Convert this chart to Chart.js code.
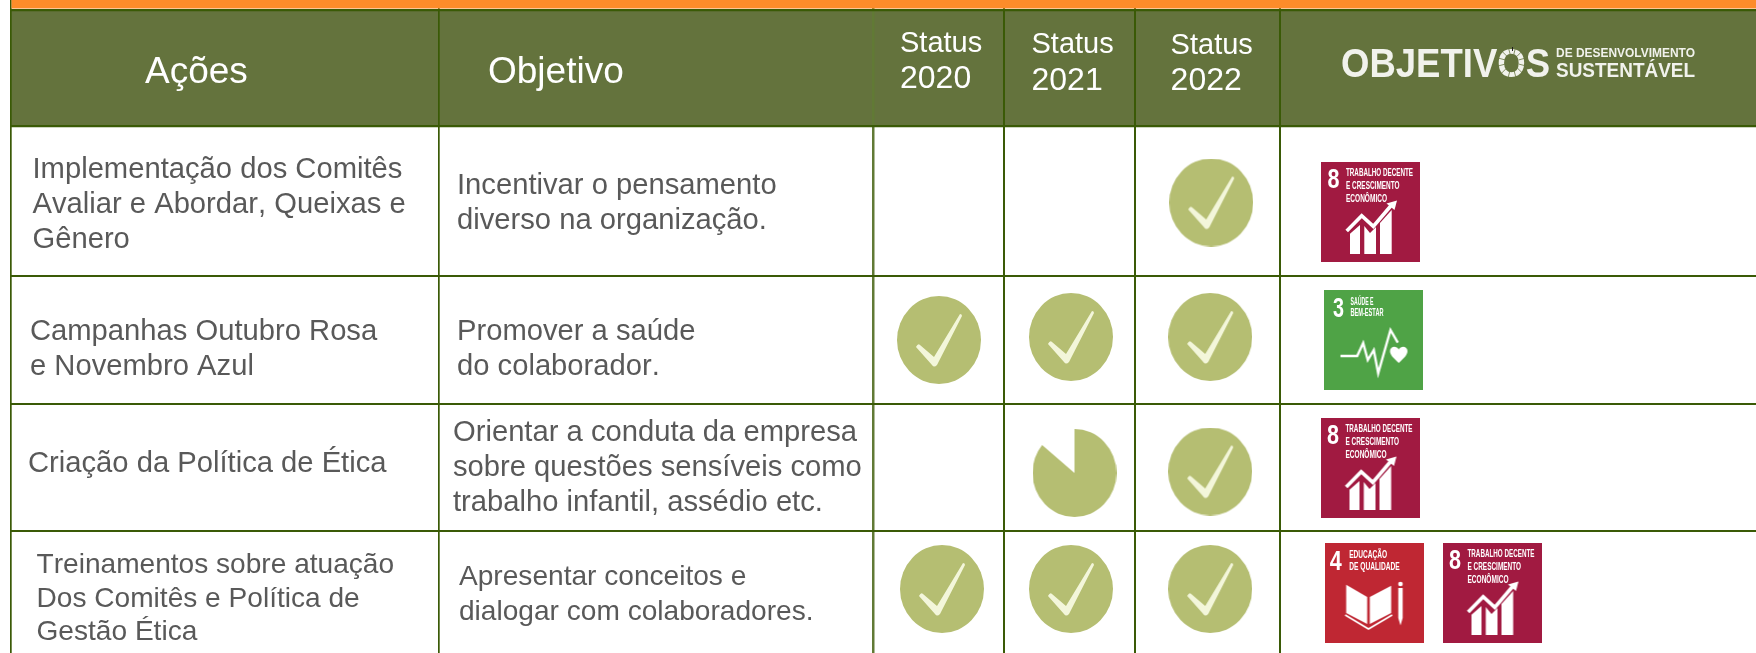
<!DOCTYPE html>
<html lang="pt">
<head>
<meta charset="utf-8">
<title>Ações e status</title>
<script src="https://cdn.jsdelivr.net/npm/chart.js@4"></script>
<style>html,body{margin:0;padding:0;background:#fff;overflow:hidden}canvas{display:block}</style>
</head>
<body>
<canvas id="c" width="1756" height="653"></canvas>
<script>
// ---------- data ----------
const headerAcoes = 'Ações';
const headerObjetivo = 'Objetivo';
const statusYears = ['2020', '2021', '2022'];
const actions = [
  ['Implementação dos Comitês', 'Avaliar e Abordar, Queixas e', 'Gênero'],
  ['Campanhas Outubro Rosa', 'e Novembro Azul'],
  ['Criação da Política de Ética'],
  ['Treinamentos sobre atuação', 'Dos Comitês e Política de', 'Gestão Ética']
];
const objectives = [
  ['Incentivar o pensamento', 'diverso na organização.'],
  ['Promover a saúde', 'do colaborador.'],
  ['Orientar a conduta da empresa', 'sobre questões sensíveis como', 'trabalho infantil, assédio etc.'],
  ['Apresentar conceitos e', 'dialogar com colaboradores.']
];
const status2020 = [null, 1, null, 1];
const status2021 = [null, 1, 0.86, 1];
const status2022 = [1, 1, 1, 1];
const rowGoals = [[8], [3], [8], [4, 8]];
const goalTitles = {
  3: ['SAÚDE E', 'BEM-ESTAR'],
  4: ['EDUCAÇÃO', 'DE QUALIDADE'],
  8: ['TRABALHO DECENTE', 'E CRESCIMENTO', 'ECONÔMICO']
};
const logoMain = 'OBJETIVOS', logoTop = 'DE DESENVOLVIMENTO', logoBottom = 'SUSTENTÁVEL';

// ---------- layout (table geometry, axis units = page pixels) ----------
const colEdges = [10.5, 438.5, 873, 1004, 1135, 1279.5];
const rowEdges = [10, 126, 276, 404, 531];
const tableBottom = 653;
const statusCols = [2, 3, 4];
const markNudgeX = [[0, 0, 4], [0.5, 1.5, 3], [0, 5, 3], [3.5, 1.5, 3]];
const markNudgeY = [[1.5, 1.5, 1.5], [0, -3, -3], [4, 5.5, 4], [-3, -3, -3]];
const goalTileX = [[1370.5], [1373], [1370], [1374, 1492]];
const goalTileY = [212, 340, 468, 593];
const actionX = [32.5, 30, 28, 36.5];
const actionBase = [[178, 213, 248], [340, 375], [472], [573, 607, 640]];
const actionSize = [29.2, 29.2, 29.2, 28.1];
const objectiveX = [457, 457, 453, 459];
const objectiveBase = [[194, 229], [340, 375], [441, 476, 511], [585, 620]];
const objectiveSize = [29.2, 29.2, 29.2, 28.1];
const statusTextX = [900, 1031.5, 1170.6];
const statusTextBase = [[52, 88], [53, 90], [54, 90]];
const TEXT = '"Liberation Sans", Arial, sans-serif';
const GOLD = '#b5be72', TICK = '#f3f6da', HEAD = '#64733d', RULE = '#3a5a06', ORANGE = '#fd8c2a';
const goalColors = {3: '#4fa346', 4: '#bf2733', 8: '#a11a41'};

// ---------- mark images ----------
function statusImage(v) {
  const w = 84, h = 88, c = document.createElement('canvas');
  c.width = w; c.height = h;
  const g = c.getContext('2d');
  g.save();
  g.translate(w / 2, h / 2); g.scale(w / 2, h / 2);
  g.fillStyle = GOLD;
  g.beginPath();
  if (v >= 1) { g.arc(0, 0, 1, 0, Math.PI * 2); }
  else { g.moveTo(0, 0); g.arc(0, 0, 1, -Math.PI / 2, -Math.PI / 2 + v * Math.PI * 2); g.closePath(); }
  g.fill();
  g.restore();
  if (v >= 1) {
    g.translate(w / 2, h / 2);
    g.fillStyle = TICK;
    g.beginPath();
    g.moveTo(-23, 7); g.quadraticCurveTo(-21, 3, -19, 5);
    g.lineTo(-5, 17); g.lineTo(21, -26);
    g.quadraticCurveTo(23, -26, 23, -24);
    g.lineTo(-2, 25);
    g.quadraticCurveTo(-5, 28, -7, 25);
    g.closePath();
    g.fill();
  }
  return c;
}
function poly(g, pts) {
  g.beginPath();
  pts.forEach((p, i) => i ? g.lineTo(p[0], p[1]) : g.moveTo(p[0], p[1]));
}
function goalImage(n) {
  const c = document.createElement('canvas');
  c.width = 99; c.height = 100;
  const g = c.getContext('2d');
  g.fillStyle = goalColors[n];
  g.fillRect(0, 0, 99, 100);
  g.fillStyle = '#fff'; g.strokeStyle = '#fff'; g.lineJoin = 'miter';
  if (n === 8) {
    poly(g, [[29, 71.7], [39, 63], [39, 92], [29, 92]]); g.fill();
    poly(g, [[43.3, 64], [49, 71], [55, 65], [55, 92], [43.3, 92]]); g.fill();
    poly(g, [[59, 61], [70.7, 48], [70.7, 92], [59, 92]]); g.fill();
    g.lineWidth = 3.6;
    poly(g, [[25.7, 69], [40.7, 53.7], [52.3, 64.3], [71, 42.5]]); g.stroke();
    poly(g, [[76, 38.5], [73.5, 48], [65.5, 41.5]]); g.fill();
  } else if (n === 3) {
    g.lineWidth = 2.4;
    poly(g, [[17, 66], [33.7, 66], [39.7, 53], [44.3, 70], [50.3, 60], [54.7, 83.3], [67, 40], [74.3, 52.7]]); g.stroke();
    g.beginPath();
    g.moveTo(75.3, 73);
    g.bezierCurveTo(70, 68, 66.5, 65, 66.5, 61);
    g.bezierCurveTo(66.5, 56, 73, 55, 75.3, 59.5);
    g.bezierCurveTo(77.5, 55, 84, 56, 84, 61);
    g.bezierCurveTo(84, 65, 80.5, 68, 75.3, 73);
    g.fill();
  } else if (n === 4) {
    poly(g, [[21.7, 41.7], [42.7, 54], [42.7, 81], [21.7, 70]]); g.fill();
    poly(g, [[45.3, 54], [66.7, 42.7], [66.7, 70], [45.3, 81]]); g.fill();
    g.lineWidth = 1.6;
    poly(g, [[20.7, 72], [44, 86], [67.7, 72]]); g.stroke();
    g.beginPath(); g.arc(76, 41, 2.3, 0, Math.PI * 2); g.fill();
    poly(g, [[73.8, 45], [78.2, 45], [78.2, 75], [76, 82.5], [73.8, 75]]); g.fill();
  }
  return c;
}

// ---------- datasets built from the arrays ----------
const allStatus = [status2020, status2021, status2022];
const markPoints = [], markStyles = [];
allStatus.forEach((series, s) => series.forEach((v, r) => {
  if (v === null) return;
  const col = statusCols[s];
  markPoints.push({
    x: (colEdges[col] + colEdges[col + 1]) / 2 + markNudgeX[r][s],
    y: (rowEdges[r + 1] + (rowEdges[r + 2] || tableBottom)) / 2 + markNudgeY[r][s]
  });
  markStyles.push(statusImage(v));
}));
const goalPoints = [], goalStyles = [], goalLabels = [];
rowGoals.forEach((list, r) => list.forEach((n, i) => {
  goalPoints.push({x: goalTileX[r][i], y: goalTileY[r]});
  goalStyles.push(goalImage(n));
  goalLabels.push(n);
}));

// ---------- text offsets inside a goal tile ----------
const goalText = {
  3: {num: [9.5, 27.3, 11], size: 11.5, x: 27, base: [15.3, 26], width: [23, 33]},
  4: {num: [5.3, 26.8, 12], size: 11.5, x: 24.7, base: [15, 26.7], width: [38, 50.6]},
  8: {num: [6.5, 26.4, 12], size: 11.5, x: 25, base: [14.3, 27, 39.5], width: [67, 53.5, 41]}
};

const tablePaint = {
  id: 'tablePaint',
  beforeDraw(chart) {
    const {ctx, scales: {x, y}} = chart;
    ctx.save();
    ctx.fillStyle = HEAD;
    const x0 = x.getPixelForValue(colEdges[0]);
    const y0 = y.getPixelForValue(rowEdges[0]);
    ctx.fillRect(x0, y0, chart.width - x0, y.getPixelForValue(rowEdges[1]) - y0);
    ctx.restore();
  },
  beforeDatasetsDraw(chart) {
    const {ctx, scales: {x, y}} = chart;
    ctx.save();
    ctx.fillStyle = ORANGE;
    const x0 = x.getPixelForValue(colEdges[0]);
    ctx.fillRect(x0 + 1, 0, chart.width - x0, y.getPixelForValue(8.5));
    ctx.restore();
  },
  afterDatasetsDraw(chart) {
    const {ctx, scales: {x, y}} = chart;
    const put = (s, vx, vy, mw) => {
      const px = x.getPixelForValue(vx), py = y.getPixelForValue(vy);
      if (mw) ctx.fillText(s, px, py, mw); else ctx.fillText(s, px, py);
    };
    ctx.save();
    ctx.textAlign = 'left'; ctx.textBaseline = 'alphabetic';
    ctx.fillStyle = '#fff';
    ctx.font = '37px ' + TEXT;
    put(headerAcoes, 145, 83);
    put(headerObjetivo, 488, 83);
    statusYears.forEach((yr, i) => {
      ctx.font = '29px ' + TEXT;
      put('Status', statusTextX[i], statusTextBase[i][0]);
      ctx.font = '32px ' + TEXT;
      put(yr, statusTextX[i], statusTextBase[i][1]);
    });
    ctx.fillStyle = '#f1f2ec';
    ctx.font = 'bold 41px ' + TEXT;
    put(logoMain, 1341, 77, 209);
    // the wheel of the logo's second O: thin gaps and one dark notch
    const wheelX = x.getPixelForValue(1512), wheelY = y.getPixelForValue(62);
    ctx.strokeStyle = HEAD; ctx.lineWidth = 0.8;
    for (let a = 0; a < 12; a++) {
      const t = a * Math.PI / 6 + 0.26;
      ctx.beginPath();
      ctx.moveTo(wheelX + 7 * Math.cos(t), wheelY + 8 * Math.sin(t));
      ctx.lineTo(wheelX + 15 * Math.cos(t), wheelY + 16 * Math.sin(t));
      ctx.stroke();
    }
    ctx.strokeStyle = '#222'; ctx.lineWidth = 1;
    ctx.beginPath(); ctx.moveTo(wheelX + 0.5, wheelY - 15); ctx.lineTo(wheelX + 0.5, wheelY - 11); ctx.stroke();
    ctx.font = 'bold 12.5px ' + TEXT;
    put(logoTop, 1556, 56.5, 139);
    ctx.font = 'bold 21px ' + TEXT;
    put(logoBottom, 1556, 77, 139);

    ctx.fillStyle = '#595959';
    ctx.fontKerning = 'none';
    actions.forEach((lines, r) => {
      ctx.font = actionSize[r] + 'px ' + TEXT;
      lines.forEach((t, i) => put(t, actionX[r], actionBase[r][i]));
    });
    objectives.forEach((lines, r) => {
      ctx.font = objectiveSize[r] + 'px ' + TEXT;
      lines.forEach((t, i) => put(t, objectiveX[r], objectiveBase[r][i]));
    });
    ctx.fontKerning = 'auto';

    goalPoints.forEach((p, k) => {
      const n = goalLabels[k], d = goalText[n];
      const left = p.x - 49.5, top = p.y - 50;
      ctx.fillStyle = '#fff';
      ctx.font = 'bold 28px ' + TEXT;
      put(String(n), left + d.num[0], top + d.num[1], d.num[2]);
      ctx.font = 'bold ' + d.size + 'px ' + TEXT;
      goalTitles[n].forEach((t, i) => put(t, left + d.x, top + d.base[i], d.width[i]));
    });
    ctx.restore();
  }
};

new Chart(document.getElementById('c'), {
  type: 'scatter',
  data: {
    datasets: [
      {label: 'Status', data: markPoints, pointStyle: markStyles, pointRadius: 1, pointHoverRadius: 1, pointBorderWidth: 0, showLine: false},
      {label: 'ODS', data: goalPoints, pointStyle: goalStyles, pointRadius: 1, pointHoverRadius: 1, pointBorderWidth: 0, showLine: false}
    ]
  },
  plugins: [tablePaint],
  options: {
    responsive: false,
    animation: false,
    events: [],
    layout: {autoPadding: false, padding: {left: colEdges[0], right: 0, top: 0, bottom: 0}},
    plugins: {legend: {display: false}, tooltip: {enabled: false}, title: {display: false}},
    scales: {
      x: {
        type: 'linear', min: colEdges[0], max: 1756, position: 'bottom',
        afterBuildTicks(a) { a.ticks = colEdges.map(v => ({value: v})); },
        ticks: {display: false},
        border: {display: false},
        grid: {
          drawTicks: false,
          color: c => (c.index === 2 ? '#617a35' : RULE),
          lineWidth: c => (c.index === 2 ? 2.5 : c.index < 2 ? 1.7 : 2)
        }
      },
      y: {
        type: 'linear', min: 0, max: tableBottom, reverse: true, position: 'left',
        afterBuildTicks(a) { a.ticks = rowEdges.map(v => ({value: v})); },
        ticks: {display: false},
        border: {display: false},
        grid: {
          drawTicks: false, color: RULE,
          lineWidth: c => (c.index === 0 || c.index === 1 ? 2.2 : 2)
        }
      }
    }
  }
});
</script>
</body>
</html>
